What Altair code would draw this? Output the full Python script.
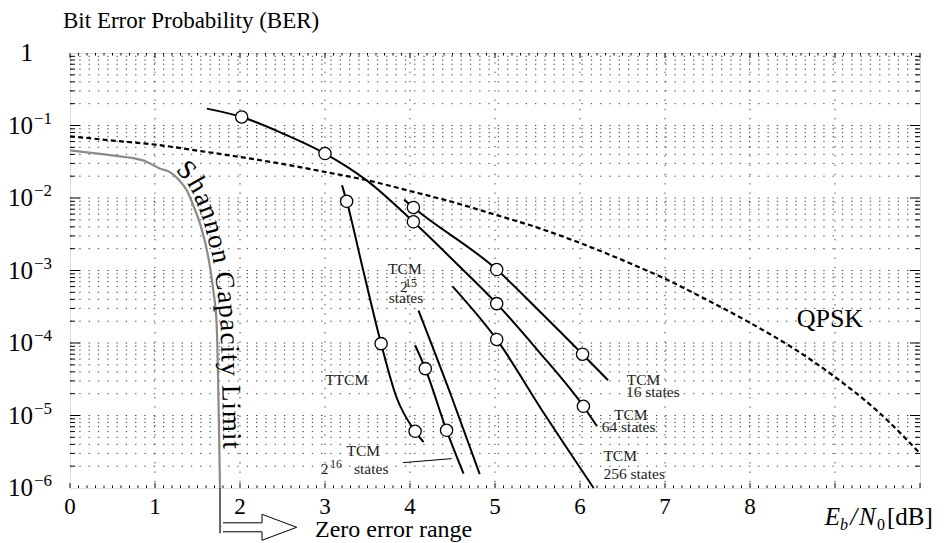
import math
import altair as alt
import pandas as pd

FONT = "Liberation Serif"
W, H = 850, 435

# ---------------- data ----------------
shannon_x = [0.0, 0.47, 0.86, 1.06, 1.18, 1.28, 1.373, 1.45, 1.53, 1.627, 1.686, 1.725, 1.745, 1.765]
shannon_ber = [0.0455, 0.039, 0.033, 0.0254, 0.0226, 0.0178, 0.0128, 0.0079, 0.0044, 0.00153, 5.3e-4, 1.86e-4, 2.2e-5, 1.0e-6]

qpsk_x = [0, 0.5, 1, 1.5, 2, 2.5, 3, 3.5, 4, 4.5, 5, 5.5, 6, 6.5, 7, 7.5, 8, 8.5, 9, 9.5, 10]
qpsk_ber = [0.071, 0.062, 0.0545, 0.045, 0.0368, 0.0295, 0.0229, 0.0175, 0.0125, 0.0088, 0.0059,
            0.0039, 0.0024, 0.00139, 7.7e-4, 3.9e-4, 1.9e-4, 8.6e-5, 3.4e-5, 1.15e-5, 3.0e-6]

tcm64_x = [1.61, 2.02, 2.51, 3.0, 3.49, 4.04, 4.55, 5.02, 5.5, 6.04, 6.2]
tcm64_ber = [0.171, 0.131, 0.077, 0.041, 0.0175, 0.0047, 0.00124, 3.49e-4, 8.0e-5, 1.34e-5, 7.1e-6]
tcm16_x = [3.93, 4.04, 5.02, 5.53, 6.03, 6.33]
tcm16_ber = [0.0095, 0.0074, 0.00103, 2.7e-4, 7.0e-5, 3.06e-5]
tcm256_x = [4.5, 5.02, 5.57, 6.16]
tcm256_ber = [6.05e-4, 1.12e-4, 1.1e-5, 1.0e-6]
ttcm_x = [3.2, 3.255, 3.45, 3.66, 3.84, 4.06, 4.16]
ttcm_ber = [0.015, 0.009, 1.0e-3, 9.8e-5, 1.8e-5, 6.05e-6, 4.3e-6]
tcm2e16_x = [4.06, 4.18, 4.43, 4.63]
tcm2e16_ber = [9.3e-5, 4.43e-5, 6.25e-6, 1.58e-6]
tcm2e15_x = [4.1, 4.49, 4.82]
tcm2e15_ber = [2.8e-4, 1.8e-5, 1.55e-6]

marker_x = [2.02, 3.0, 4.04, 5.02, 6.04, 4.04, 5.02, 6.03, 5.02, 3.255, 3.66, 4.06, 4.18, 4.43]
marker_ber = [0.131, 0.041, 0.0047, 3.49e-4, 1.34e-5, 0.0074, 0.00103, 7.0e-5, 1.12e-4,
              0.009, 9.8e-5, 6.05e-6, 4.43e-5, 6.25e-6]

x_tick_labels = ["0", "1", "2", "3", "4", "5", "6", "7", "8"]
y_decade_exp = [1, 2, 3, 4, 5, 6]

# ---------------- scales ----------------
xs = alt.Scale(domain=[0, 10], nice=False, zero=False)
ys = alt.Scale(type="log", domain=[1e-6, 1], nice=False)
X = alt.X("x:Q", scale=xs, axis=None)
Y = alt.Y("y:Q", scale=ys, axis=None)


def curve_df(xv, yv):
    return pd.DataFrame({"x": xv, "y": yv, "o": list(range(len(xv)))})


def line(xv, yv, **kw):
    return alt.Chart(curve_df(xv, yv)).mark_line(**kw).encode(x=X, y=Y, order="o:Q")


def text_layer(rows, size, align="center", baseline="middle", italic=False, dy=0, color="black"):
    df = pd.DataFrame(rows, columns=["t", "x", "y"])
    return alt.Chart(df).mark_text(
        font=FONT, fontSize=size, align=align, baseline=baseline,
        fontStyle="italic" if italic else "normal", dy=dy, color=color
    ).encode(x=X, y=Y, text="t:N")


def L(v):
    return 10 ** v


layers = []

# ---------------- grid ----------------
GRID = dict(color="#3a3a3a", strokeWidth=1, strokeDash=[1.3, 8.0])
vgrid = pd.DataFrame({"x": list(range(1, 10))})
layers.append(alt.Chart(vgrid).mark_rule(**GRID).encode(x=X, y=alt.value(0), y2=alt.value(H)))
hvals = [m * 10.0 ** k for k in range(-6, 0) for m in range(1, 10) if not (k == -6 and m == 1)]
hgrid = pd.DataFrame({"y": hvals})
layers.append(alt.Chart(hgrid).mark_rule(**GRID).encode(y=Y, x=alt.value(0), x2=alt.value(W)))

# ---------------- ticks (inward) ----------------
TICK = dict(color="black", strokeWidth=1)
xmaj = pd.DataFrame({"x": list(range(0, 11))})
xmin = pd.DataFrame({"x": [round(i * 0.1, 1) for i in range(101) if i % 10 != 0]})
layers.append(alt.Chart(xmaj).mark_rule(**TICK).encode(x=X, y=alt.value(H), y2=alt.value(H - 5)))
layers.append(alt.Chart(xmaj).mark_rule(**TICK).encode(x=X, y=alt.value(0), y2=alt.value(5)))
layers.append(alt.Chart(xmin).mark_rule(**TICK).encode(x=X, y=alt.value(H), y2=alt.value(H - 2.5)))
layers.append(alt.Chart(xmin).mark_rule(**TICK).encode(x=X, y=alt.value(0), y2=alt.value(2.5)))
ymaj = pd.DataFrame({"y": [10.0 ** k for k in range(-5, 0)]})
ymin = pd.DataFrame({"y": [m * 10.0 ** k for k in range(-6, 0) for m in range(2, 10)]})
layers.append(alt.Chart(ymaj).mark_rule(**TICK).encode(y=Y, x=alt.value(0), x2=alt.value(10)))
layers.append(alt.Chart(ymaj).mark_rule(**TICK).encode(y=Y, x=alt.value(W), x2=alt.value(W - 10)))
layers.append(alt.Chart(ymin).mark_rule(**TICK).encode(y=Y, x=alt.value(0), x2=alt.value(5)))
layers.append(alt.Chart(ymin).mark_rule(**TICK).encode(y=Y, x=alt.value(W), x2=alt.value(W - 5)))

# ---------------- curves ----------------
layers.append(line(shannon_x, shannon_ber, color="#8a8a8a", strokeWidth=2.2, interpolate="monotone"))
layers.append(line(qpsk_x, qpsk_ber, color="black", strokeWidth=2.2, strokeDash=[5, 3.2],
                   interpolate="monotone"))
CURVE = dict(color="black", strokeWidth=2, interpolate="monotone")
for cx, cy in [(tcm64_x, tcm64_ber), (tcm16_x, tcm16_ber), (tcm256_x, tcm256_ber),
               (ttcm_x, ttcm_ber), (tcm2e16_x, tcm2e16_ber), (tcm2e15_x, tcm2e15_ber)]:
    layers.append(line(cx, cy, **CURVE))

mk = pd.DataFrame({"x": marker_x, "y": marker_ber})
layers.append(alt.Chart(mk).mark_point(shape="circle", filled=True, fill="white", stroke="black",
                                       strokeWidth=1.3, size=150, opacity=1).encode(x=X, y=Y))

# zero error range marker and arrow
layers.append(line([1.765, 1.765], [1e-6, L(-6.625)], color="black", strokeWidth=1.2))
arrow_x = [1.8, 2.259, 2.259, 2.667, 2.259, 2.259, 1.8]
arrow_y = [L(v) for v in [-6.48, -6.48, -6.363, -6.542, -6.721, -6.604, -6.604]]
layers.append(line(arrow_x, arrow_y, color="black", strokeWidth=1))
# leader line for 2^16 label
layers.append(line([3.92, 4.49], [L(-5.65), L(-5.595)], color="black", strokeWidth=1))

# ---------------- text ----------------
layers.append(text_layer([["Bit Error Probability (BER)", -0.082, L(0.35)]], 23, align="left",
                         baseline="alphabetic"))
# y labels
layers.append(text_layer([["1", -0.435, 1.0]], 25, align="right"))
layers.append(text_layer([["10", -0.435, 10.0 ** -k] for k in y_decade_exp], 25, align="right"))
layers.append(text_layer([["\u2212" + str(k), -0.425, 10.0 ** -k] for k in y_decade_exp], 17,
                         align="left", dy=-7))
# x labels
layers.append(text_layer([[t, float(i), L(-6.26)] for i, t in enumerate(x_tick_labels)], 23))
# axis title E_b/N_0[dB]
layers.append(text_layer([["E", 8.88, L(-6.515)], ["/", 9.18, L(-6.515)], ["N", 9.282, L(-6.515)]], 25,
                         align="left", baseline="alphabetic", italic=True))
layers.append(text_layer([["b", 9.06, L(-6.585)]], 16, align="left", baseline="alphabetic", italic=True))
layers.append(text_layer([["0", 9.494, L(-6.585)]], 16, align="left", baseline="alphabetic"))
layers.append(text_layer([["[dB]", 9.612, L(-6.515)]], 25, align="left", baseline="alphabetic"))
# zero error range
layers.append(text_layer([["Zero error range", 2.882, L(-6.583)]], 24, align="left"))
# QPSK
layers.append(text_layer([["QPSK", 8.94, L(-3.663)]], 26))
# small labels
SMALL = 15.5
layers.append(text_layer([["TTCM", 3.255, L(-4.505)],
                          ["TCM", 3.94, L(-2.974)], ["states", 3.953, L(-3.374)],
                          ["TCM", 3.45, L(-5.49)]],
                         SMALL, color="#222"))
layers.append(text_layer([["2", 3.882, L(-3.232)], ["2", 2.949, L(-5.732)],
                          ["states", 3.341, L(-5.732)]],
                         SMALL, align="left", color="#222"))
layers.append(text_layer([["15", 3.941, L(-3.17)], ["16", 3.06, L(-5.665)]],
                         12, align="left", color="#222"))
layers.append(text_layer([["TCM", 6.55, L(-4.505)], ["16 states", 6.54, L(-4.676)],
                          ["TCM", 6.40, L(-4.997)], ["64 states", 6.255, L(-5.159)],
                          ["TCM", 6.275, L(-5.563)], ["256 states", 6.275, L(-5.811)]],
                         SMALL, align="left", color="#222"))

# Shannon Capacity Limit text placed along the Shannon curve
label = "Shannon Capacity Limit"
FS = 27
cw = {"S": 0.556, "h": 0.5, "a": 0.444, "n": 0.5, "o": 0.5, " ": 0.25, "C": 0.667, "p": 0.5,
      "c": 0.444, "i": 0.278, "t": 0.278, "y": 0.5, "L": 0.611, "m": 0.778}


def to_px(x, b):
    return x / 10 * W, -math.log10(b) / 6 * H


pts = [to_px(x, b) for x, b in zip(shannon_x, shannon_ber)]
dense = []
for (x0, y0), (x1, y1) in zip(pts[:-1], pts[1:]):
    for j in range(20):
        t = j / 20
        dense.append((x0 + (x1 - x0) * t, y0 + (y1 - y0) * t))
dense.append(pts[-1])
cum = [0.0]
for a, b in zip(dense[:-1], dense[1:]):
    cum.append(cum[-1] + math.hypot(b[0] - a[0], b[1] - a[1]))


def point_at(s):
    s = max(0.0, min(cum[-1], s))
    for i in range(1, len(cum)):
        if cum[i] >= s:
            a, b = dense[i - 1], dense[i]
            seg = cum[i] - cum[i - 1]
            t = (s - cum[i - 1]) / seg if seg else 0
            return a[0] + (b[0] - a[0]) * t, a[1] + (b[1] - a[1]) * t
    return dense[-1]


def s_where(cond):
    for i, p in enumerate(dense):
        if cond(p):
            return cum[i]
    return cum[-1]


s_start = s_where(lambda p: p[0] >= 1.2 / 10 * W)
s_end = s_where(lambda p: p[1] >= 395)
natural = sum(cw[c] for c in label) * FS
track = (s_end - s_start - natural) / (len(label) - 1)
rows = []
pos = s_start
OFF = 4
for c in label:
    w = cw[c] * FS
    sc = pos + w / 2
    p0 = point_at(sc - 8)
    p1 = point_at(sc + 8)
    ang = math.atan2(p1[1] - p0[1], p1[0] - p0[0])
    px, py = point_at(sc)
    bx = px + OFF * math.sin(ang)
    by = py - OFF * math.cos(ang)
    rows.append({"t": c, "x": bx / W * 10, "y": 10 ** (-by / H * 6), "a": math.degrees(ang) % 360})
    pos += w + track
sh = pd.DataFrame(rows)
layers.append(alt.Chart(sh).mark_text(font=FONT, fontSize=FS, align="center", baseline="alphabetic",
                                      color="black").encode(x=X, y=Y, text="t:N",
                                                            angle=alt.Angle("a:Q", scale=None)))

chart = alt.layer(*layers).properties(
    width=W, height=H,
    padding={"left": 62, "top": 45, "right": 16, "bottom": 55},
    autosize=alt.AutoSizeParams(type="none"),
).configure_view(stroke="black", strokeWidth=1.5).configure(background="white")

chart.save("out.html", embed_options={"renderer": "svg", "actions": False})
